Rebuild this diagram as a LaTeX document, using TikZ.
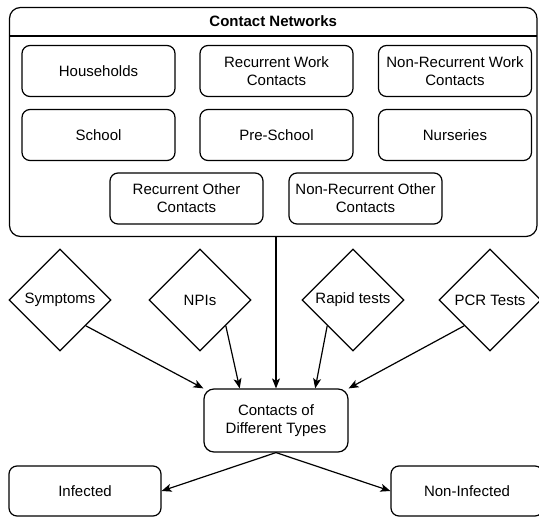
\documentclass[tikz,border=0pt]{standalone}
\usepackage{fontspec}
\setmainfont{Liberation Sans}
\usetikzlibrary{shapes.geometric,arrows.meta,calc}
\tikzset{
  x=1pt,y=-1pt,
  every node/.style={font=\fontsize{15}{18}\selectfont, align=center},
  box/.style={draw, line width=1.2pt, rounded corners=8pt, minimum width=153pt, minimum height=51pt, inner sep=2pt},
  outbox/.style={draw, line width=1.2pt, rounded corners=8pt, minimum width=152pt, minimum height=50pt, inner sep=2pt},
  dia/.style={draw, line width=1.2pt, diamond, aspect=1, minimum width=102pt, minimum height=102pt, inner sep=0pt},
  conn/.style={line width=1.2pt, -{Stealth[length=10pt,width=8pt,inset=2.5pt]}},
  plain/.style={line width=1.2pt},
}
\begin{document}
\begin{tikzpicture}
\useasboundingbox (0,0) rectangle (539,518);
% container
\node[draw, line width=1.2pt, rounded corners=11pt, minimum width=527.5pt, minimum height=229pt, inner sep=0pt] (net) at (273.25,122) {};
\coordinate (tl) at (9.5,36);
\coordinate (tr) at (537,36);
\draw[plain] (tl) -- (tr);
\node[font=\fontsize{15}{18}\selectfont\bfseries] (title) at (273.25,21.5) {Contact Networks};
% row 1
\node[box] (hh) at (98.5,71) {Households};
\node[box] (rw) at (276.5,71) {Recurrent Work\\Contacts};
\node[box] (nrw) at (455,71) {Non-Recurrent Work\\Contacts};
% row 2
\node[box] (sch) at (98.5,135) {School};
\node[box] (pre) at (276.5,135) {Pre-School};
\node[box] (nur) at (455,135) {Nurseries};
% row 3
\node[box] (ro) at (186.5,198.5) {Recurrent Other\\Contacts};
\node[box] (nro) at (365.5,198.5) {Non-Recurrent Other\\Contacts};
% diamonds
\node[dia] (sym) at (60,300) {Symptoms};
\node[dia] (npi) at (200,300) {NPIs};
\node[dia] (rap) at (353,300) {Rapid tests};
\node[dia] (pcr) at (490,300) {PCR Tests};
% central
\node[draw, line width=1.2pt, rounded corners=10pt, minimum width=144pt, minimum height=63pt, inner sep=2pt] (cont) at (276,420.5) {Contacts of\\Different Types};
% outcomes
\node[outbox] (inf) at (85,491) {Infected};
\node[outbox] (ninf) at (467,491) {Non-Infected};
% connectors
\draw[conn] (cont.north |- net.south) -- (cont.north);
\draw[conn] (sym.south east) -- (cont.north west);
\draw[conn] (npi.south east) -- ($(cont.north west)!0.25!(cont.north east)$);
\draw[conn] (rap.south west) -- ($(cont.north west)!0.77!(cont.north east)$);
\draw[conn] (pcr.south west) -- (cont.north east);
\draw[conn] (cont.south) -- (inf.east);
\draw[conn] (cont.south) -- (ninf.west);
\end{tikzpicture}
\end{document}
